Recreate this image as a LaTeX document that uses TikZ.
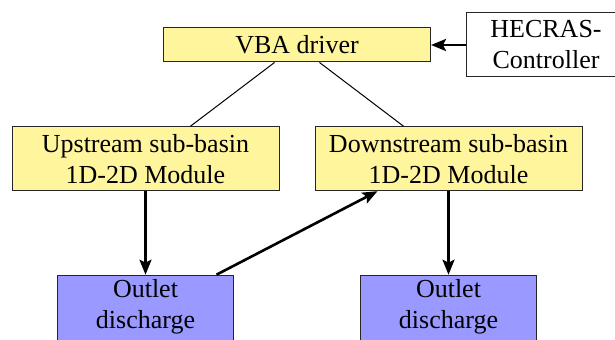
\documentclass[tikz,border=0pt]{standalone}
\usepackage{fontspec}
\setmainfont{Liberation Serif}
\usetikzlibrary{arrows.meta}
\definecolor{modyellow}{RGB}{255,245,157}
\definecolor{outblue}{RGB}{153,153,255}
\begin{document}
\begin{tikzpicture}[x=0.5pt, y=-0.5pt,
  every node/.style={draw=black!85, line width=0.5pt, align=center, inner sep=0pt, font=\rmfamily\fontsize{13}{15.5}\selectfont},
  module/.style={fill=modyellow, minimum width=133.5pt, minimum height=32pt},
  outlet/.style={fill=outblue, minimum width=88pt, anchor=north, inner ysep=2pt, text depth=40pt},
  flow/.style={-{Stealth[length=7.5pt, width=6pt, inset=1.5pt]}, line width=1.3pt},
  link/.style={line width=0.5pt}]
	\clip (0,0) rectangle (615,340);
	\node[module, minimum height=17pt] (vba) at (297,45) {VBA driver};
	\node[fill=white, minimum width=80pt, minimum height=32pt] (hec) at (546,45) {HECRAS-\\Controller};
	\node[module] (up) at (145.5,158.7) {Upstream sub-basin\\1D-2D Module};
	\node[module] (down) at (448.5,158.7) {Downstream sub-basin\\1D-2D Module};
	\node[outlet] (outup) at (145.5,274.7) {Outlet\\discharge};
	\node[outlet] (outdown) at (448.5,274.7) {Outlet\\discharge};
	\draw[flow] (hec) -- (vba);
	\draw[link] ([xshift=-11.25pt]vba.south) -- ([xshift=22.5pt]up.north);
	\draw[link] ([xshift=11.25pt]vba.south) -- ([xshift=-22.5pt]down.north);
	\draw[flow] (up) -- (outup);
	\draw[flow] (down) -- (outdown);
	\draw[flow] ([xshift=35.5pt]outup.north) -- ([xshift=-35.5pt]down.south);
\end{tikzpicture}
\end{document}
